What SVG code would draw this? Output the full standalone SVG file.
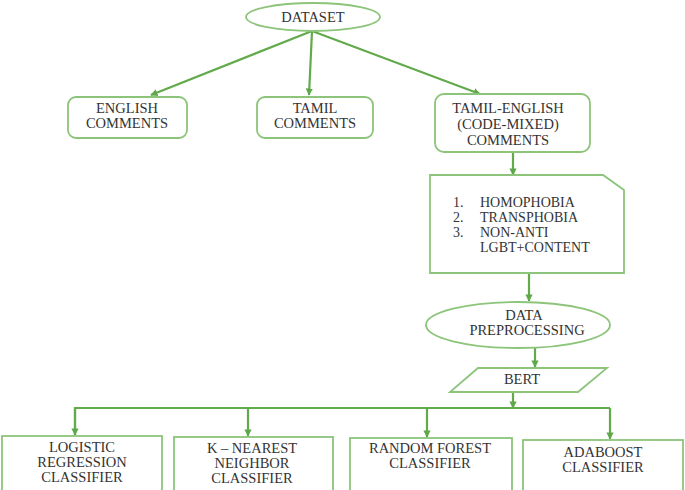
<svg xmlns="http://www.w3.org/2000/svg" width="685" height="490" viewBox="0 0 685 490">
<defs>
<marker id="ah" viewBox="0 0 10 10" refX="9" refY="5" markerWidth="3.3" markerHeight="3.3" orient="auto" markerUnits="strokeWidth">
<path d="M0,0 L10,5 L0,10 z" fill="#5fa84a"/>
</marker>
<style>
.n{fill:#fff;stroke:#8cc47a;stroke-width:1.8}
.c{fill:none;stroke:#62aa4c;stroke-width:2.2}
.a{marker-end:url(#ah)}
text{font-family:'Liberation Serif','Times New Roman',serif;font-size:14.5px;fill:#333;text-anchor:middle}
.l{text-anchor:start;font-size:14px}
</style>
</defs>
<rect width="685" height="490" fill="#fff"/>
<g id="connectors">
<line class="c a" x1="312" y1="31" x2="151" y2="95"/>
<line class="c a" x1="312" y1="31" x2="309" y2="95"/>
<line class="c a" x1="312" y1="31" x2="480" y2="94"/>
<line class="c a" x1="513" y1="152" x2="513" y2="175"/>
<line class="c a" x1="529" y1="273" x2="529" y2="301"/>
<line class="c a" x1="535" y1="348" x2="535" y2="367"/>
<line class="c a" x1="513" y1="392" x2="513" y2="408"/>
<polyline class="c" points="75,435 75,408 610,408"/>
<line class="c a" x1="75" y1="408" x2="75" y2="435"/>
<line class="c a" x1="248" y1="408" x2="248" y2="436"/>
<line class="c a" x1="427" y1="408" x2="427" y2="437"/>
<line class="c a" x1="610" y1="408" x2="610" y2="439"/>
</g>
<g id="dataset">
<ellipse class="n" cx="313" cy="17" rx="67" ry="14"/>
<text x="313" y="22">DATASET</text>
</g>
<g id="english">
<rect class="n" x="68" y="97" width="119" height="41" rx="8"/>
<text x="127" y="113">ENGLISH</text>
<text x="127" y="128">COMMENTS</text>
</g>
<g id="tamil">
<rect class="n" x="257" y="97" width="116" height="41" rx="8"/>
<text x="315" y="113">TAMIL</text>
<text x="315" y="128">COMMENTS</text>
</g>
<g id="tamil-english">
<rect class="n" x="435" y="94" width="155" height="58" rx="9"/>
<text x="508" y="113">TAMIL-ENGLISH</text>
<text x="508" y="129">(CODE-MIXED)</text>
<text x="508" y="145">COMMENTS</text>
</g>
<g id="labels">
<path class="n" d="M430,175 L603,175 L624,190 L624,273 L430,273 Z"/>
<text class="l" x="453" y="207">1.</text>
<text class="l" x="480" y="207">HOMOPHOBIA</text>
<text class="l" x="453" y="222">2.</text>
<text class="l" x="480" y="222">TRANSPHOBIA</text>
<text class="l" x="453" y="237">3.</text>
<text class="l" x="480" y="237">NON-ANTI</text>
<text class="l" x="480" y="252">LGBT+CONTENT</text>
</g>
<g id="preprocessing">
<ellipse class="n" cx="518" cy="325" rx="92" ry="23"/>
<text x="524" y="320">DATA</text>
<text x="527" y="335">PREPROCESSING</text>
</g>
<g id="bert">
<path class="n" d="M478,368 L607,368 L578,392 L450,392 Z"/>
<text x="522" y="384">BERT</text>
</g>
<g id="logistic">
<rect class="n" x="2" y="436" width="160" height="56"/>
<text x="82" y="452">LOGISTIC</text>
<text x="82" y="467">REGRESSION</text>
<text x="82" y="482">CLASSIFIER</text>
</g>
<g id="knn">
<rect class="n" x="174" y="437" width="159" height="55"/>
<text x="252" y="453">K – NEAREST</text>
<text x="252" y="468">NEIGHBOR</text>
<text x="252" y="483">CLASSIFIER</text>
</g>
<g id="randomforest">
<rect class="n" x="350" y="438" width="162" height="54"/>
<text x="430" y="453">RANDOM FOREST</text>
<text x="430" y="468">CLASSIFIER</text>
</g>
<g id="adaboost">
<rect class="n" x="523" y="440" width="160" height="52"/>
<text x="603" y="457">ADABOOST</text>
<text x="603" y="472">CLASSIFIER</text>
</g>
</svg>
